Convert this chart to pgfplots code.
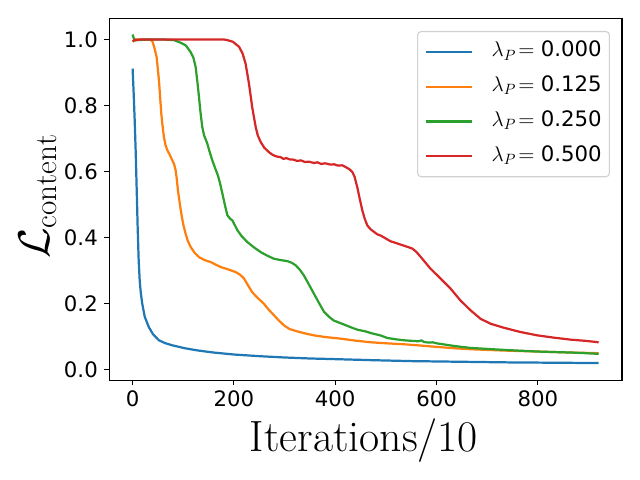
\RequirePackage{fix-cm}
\documentclass[border=0pt]{standalone}
\usepackage{pgfplots}
\pgfplotsset{compat=1.18}
\usepackage{fontspec}
\newfontfamily\dejavu{DejaVu Sans}
\definecolor{c0}{HTML}{1F77B4}
\definecolor{c1}{HTML}{FF7F0E}
\definecolor{c2}{HTML}{2CA02C}
\definecolor{c3}{HTML}{D62728}
\begin{document}
\begin{tikzpicture}
\useasboundingbox (0,0) rectangle (460.8bp,345.6bp);
\begin{axis}[
  at={(78.7bp,71.8bp)}, anchor=south west,
  scale only axis, width=369.1bp, height=260.6bp,
  xmin=-46, xmax=966, ymin=-0.032, ymax=1.064,
  xtick={0,200,400,600,800},
  ytick={0,0.2,0.4,0.6,0.8,1.0},
  tick align=outside, tick pos=left,
  major tick length=3.5bp,
  tick style={black, line width=0.8bp},
  axis line style={line width=0.8bp},
  /pgf/number format/assume math mode=true,
  ticklabel style={font=\dejavu\fontsize{15.3bp}{18bp}\selectfont, inner sep=0pt},
  xticklabel style={anchor=north, yshift=-3.5bp},
  yticklabel style={anchor=east, xshift=-4.6bp},
  yticklabel={\pgfmathprintnumber[fixed, fixed zerofill, precision=1]{\tick}},
  xlabel={Iterations/10},
  xlabel style={font=\fontsize{31.5bp}{36bp}\selectfont, at={(axis description cs:0.4968,-0.198)}, anchor=base, inner sep=0pt},
  ylabel={$\mathcal{L}_{\mathrm{content}}$},
  ylabel style={font=\fontsize{32bp}{36bp}\selectfont, at={(axis description cs:-0.1157,0.508)}, anchor=base, inner sep=0pt},
  legend cell align=left,
  legend image code/.code={\draw[#1] (0bp,0bp) -- (33bp,0bp);},
  legend style={at={(axis description cs:0.9766,0.965)}, anchor=north east,
    draw=black!18, line width=0.8bp, rounded corners=2.5bp,
    fill=white, fill opacity=0.8, text opacity=1,
    inner xsep=5.5bp, inner ysep=3bp, row sep=1.5bp, column sep=13.2bp,
    font=\dejavu\fontsize{15.3bp}{18bp}\selectfont,
    nodes={inner sep=0pt, text height=15.3bp, text depth=8.2bp}},
]
\addplot[c0, line width=1.6bp, line join=round] coordinates {
(0,0.912) (2,0.84) (4,0.76) (6,0.665) (8,0.55) (10,0.43) (12,0.33) (14,0.27)
(16,0.235) (19,0.20) (24,0.16) (32,0.129) (40,0.108) (52,0.089) (65,0.080)
(78,0.074) (103,0.065) (130,0.058) (160,0.052) (200,0.046) (250,0.041)
(300,0.037) (350,0.034) (400,0.032) (470,0.029) (550,0.026) (650,0.024)
(750,0.022) (850,0.021) (920,0.020)};
\addlegendentry{$\lambda_P\mkern2mu{=}$\hspace{4.5bp}0.000}
\addplot[c1, line width=1.6bp, line join=round] coordinates {
(0,0.993) (3,0.997) (8,1.0) (20,1.0) (35,0.999) (39,0.995) (43,0.975)
(47.4,0.947) (52,0.877) (56.6,0.776) (59,0.74) (61.8,0.705) (65,0.68)
(68.5,0.665) (73,0.652) (78.4,0.634) (82,0.622) (84.9,0.604) (87,0.58)
(89.5,0.543) (93,0.505) (96.1,0.473) (100,0.44) (104.6,0.412) (109,0.39)
(114.5,0.372) (122,0.355) (130.9,0.341) (142,0.332) (154,0.326) (163,0.319)
(173.7,0.311) (190,0.303) (203,0.296) (212,0.288)
(220,0.276) (228,0.255) (236,0.235) (245,0.220) (252,0.210) (259,0.200)
(268,0.183) (279,0.165) (288,0.150) (299,0.134) (310,0.123) (325,0.116)
(340,0.110) (358,0.104) (380,0.099) (411,0.094) (440,0.088) (470,0.083)
(500,0.080) (536,0.077) (570,0.073) (601,0.069) (635,0.065) (667,0.062)
(700,0.060) (733,0.058) (766,0.0565) (799,0.055) (832,0.0535) (865,0.052)
(895,0.051) (920,0.050)};
\addlegendentry{$\lambda_P\mkern2mu{=}$\hspace{4.5bp}0.125}
\addplot[c2, line width=1.6bp, line join=round] coordinates {
(0,1.015) (2,1.005) (5,0.997) (10,0.998) (30,1.0) (60,1.0) (81.5,0.998)
(95,0.99) (105,0.982) (114.5,0.962) (120,0.945) (124.4,0.917) (128,0.87)
(131,0.826) (134,0.78) (137.5,0.735) (141,0.71) (147.4,0.685) (152,0.66)
(157.3,0.634) (163,0.61) (168,0.59) (172.4,0.566) (177,0.535) (182,0.50)
(187,0.468) (192,0.458) (197,0.452) (201,0.44) (207,0.422) (215,0.405)
(226,0.387) (240,0.37) (253,0.356) (265,0.346) (279,0.336) (292,0.332)
(305,0.329) (314,0.324) (322,0.316) (330,0.303) (338,0.286) (348,0.258)
(358,0.230) (368,0.202) (378,0.175) (388,0.160) (397,0.149) (407,0.143)
(417,0.137) (430,0.129) (444,0.121) (460,0.116) (470,0.111) (489,0.104)
(503,0.096) (520,0.092) (536,0.089) (555,0.087) (565,0.086) (570,0.089)
(575,0.084) (585,0.082) (592,0.083) (600,0.080) (617,0.076) (634,0.072)
(650,0.069) (667,0.066) (700,0.063) (733,0.060) (766,0.0575) (799,0.055)
(832,0.0535) (865,0.052) (895,0.050) (920,0.048)};
\addlegendentry{$\lambda_P\mkern2mu{=}$\hspace{4.5bp}0.250}
\addplot[c3, line width=1.6bp, line join=round] coordinates {
(0,0.995) (5,0.999) (20,1.0) (100,1.0) (180,1.0) (187,0.998) (198,0.993)
(210,0.978) (217,0.958) (223,0.927) (226,0.9) (229.6,0.867) (233,0.83)
(236,0.796) (239.5,0.765) (243,0.735) (247,0.71) (252.7,0.69) (260,0.672)
(269,0.659) (275,0.652) (280,0.648) (286,0.645) (292,0.644) (298,0.638)
(303,0.641) (310,0.637) (318,0.636) (325,0.632) (332,0.634) (340,0.629)
(348,0.630) (358,0.626) (365,0.628) (372,0.623) (380,0.625) (391,0.621)
(398,0.622) (405,0.618) (414,0.619) (420,0.614) (428,0.607) (433.6,0.599)
(438,0.585) (443.5,0.553) (448,0.52) (453.4,0.483) (458,0.458) (463.3,0.437)
(470,0.425) (483,0.410) (490,0.406) (509,0.389) (529,0.379) (552,0.367)
(560,0.357) (568.5,0.342) (588,0.306) (608,0.276) (628,0.245) (647,0.21)
(667,0.18) (687,0.154) (707,0.139) (733,0.127) (766,0.114) (799,0.104)
(832,0.097) (865,0.091) (897,0.087) (920,0.083)};
\addlegendentry{$\lambda_P\mkern2mu{=}$\hspace{4.5bp}0.500}
\end{axis}
\end{tikzpicture}
\end{document}
